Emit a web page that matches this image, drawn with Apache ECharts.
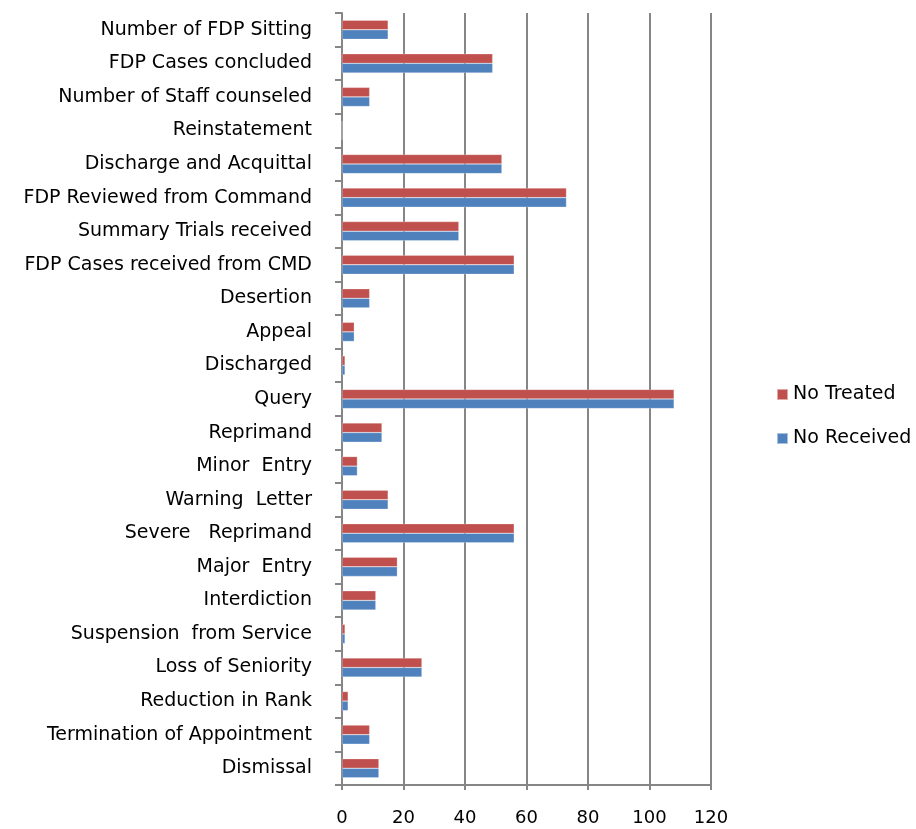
<!DOCTYPE html>
<html>
<head>
<meta charset="utf-8">
<script src="https://cdn.jsdelivr.net/npm/echarts@6/dist/echarts.min.js"></script>
<style>
  html, body { margin: 0; padding: 0; background: #fff; }
  #chart { width: 916px; height: 829px; }
</style>
</head>
<body>
<div id="chart"></div>
<script>
// categories, bottom to top
const categories = [
  "Dismissal",
  "Termination of Appointment",
  "Reduction in Rank",
  "Loss of Seniority",
  "Suspension  from Service",
  "Interdiction",
  "Major  Entry",
  "Severe   Reprimand",
  "Warning  Letter",
  "Minor  Entry",
  "Reprimand",
  "Query",
  "Discharged",
  "Appeal",
  "Desertion",
  "FDP Cases received from CMD",
  "Summary Trials received",
  "FDP Reviewed from Command",
  "Discharge and Acquittal",
  "Reinstatement",
  "Number of Staff counseled",
  "FDP Cases concluded",
  "Number of FDP Sitting"
];
const noReceived = [12, 9, 2, 26, 1, 11, 18, 56, 15, 5, 13, 108, 1, 4, 9, 56, 38, 73, 52, 0, 9, 49, 15];
const noTreated = [12, 9, 2, 26, 1, 11, 18, 56, 15, 5, 13, 108, 1, 4, 9, 56, 38, 73, 52, 0, 9, 49, 15];
const xTicks = { min: 0, max: 120, interval: 20 };

const font = "'DejaVu Sans', sans-serif";
const chart = echarts.init(document.getElementById("chart"));
chart.setOption({
  animation: false,
  color: ["#C0504D", "#4F81BD"],
  textStyle: { fontFamily: font },
  legend: {
    orient: "vertical",
    left: 771,
    top: 380,
    itemWidth: 11,
    itemHeight: 11,
    itemGap: 25,
    icon: "rect",
    textStyle: { fontSize: 19, color: "#000", fontFamily: font },
    data: ["No Treated", "No Received"]
  },
  grid: { left: 342, right: 205, top: 13, bottom: 44, containLabel: false },
  xAxis: {
    type: "value",
    min: xTicks.min,
    max: xTicks.max,
    interval: xTicks.interval,
    axisLine: { show: true, lineStyle: { color: "#868686", width: 2 } },
    axisTick: { show: true, length: 5, lineStyle: { color: "#868686", width: 2 } },
    axisLabel: { color: "#000", fontSize: 18, margin: 24, fontFamily: font },
    splitLine: { show: true, lineStyle: { color: "#868686", width: 2 } }
  },
  yAxis: {
    type: "category",
    data: categories,
    axisLine: { show: true, lineStyle: { color: "#868686", width: 2 } },
    axisTick: { show: true, length: 7, lineStyle: { color: "#868686", width: 2 } },
    axisLabel: { color: "#000", fontSize: 19, margin: 30, fontFamily: font },
    splitLine: { show: false }
  },
  series: [
    {
      name: "No Treated",
      type: "bar",
      data: noTreated,
      barGap: "0%",
      barCategoryGap: "43%",
      itemStyle: { borderColor: "rgba(255,255,255,0.5)", borderWidth: 0.5 }
    },
    {
      name: "No Received",
      type: "bar",
      data: noReceived,
      barGap: "0%",
      barCategoryGap: "43%",
      itemStyle: { borderColor: "rgba(255,255,255,0.5)", borderWidth: 0.5 }
    }
  ]
});
</script>
</body>
</html>
